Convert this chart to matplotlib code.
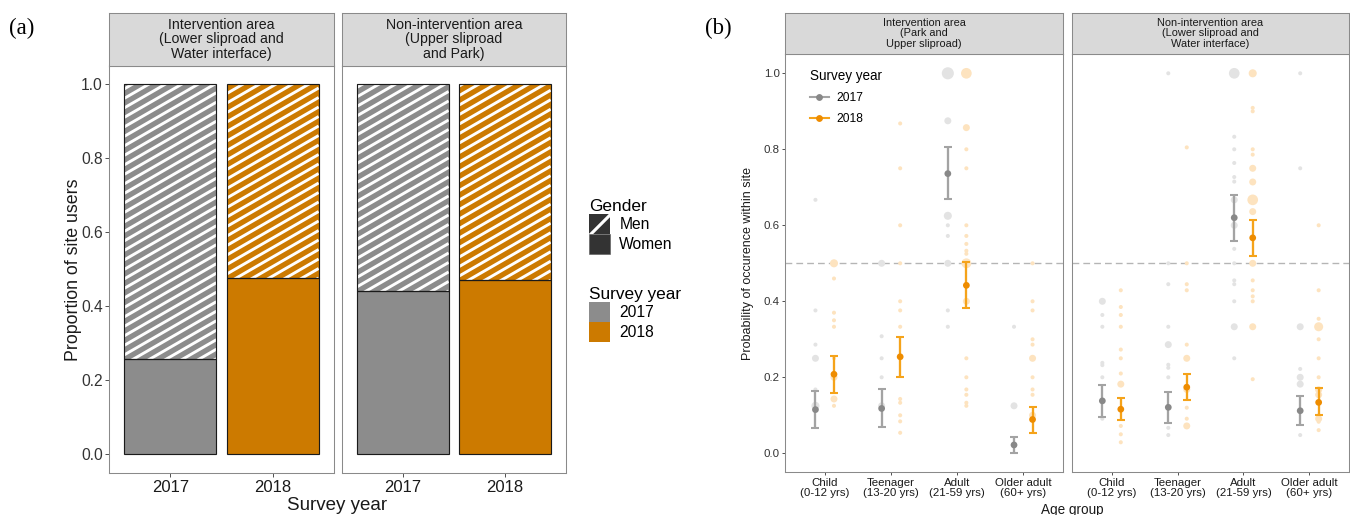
import numpy as np
import matplotlib
matplotlib.use("Agg")
import matplotlib.pyplot as plt
from matplotlib.patches import Patch
from matplotlib.lines import Line2D

W, H = 1350, 515
DPI = 75

plt.rcParams["font.family"] = ["Liberation Sans Narrow", "Liberation Sans", "DejaVu Sans"]
plt.rcParams["hatch.linewidth"] = 3.0

# ---------------- panel (a) data ----------------
YEARS = ["2017", "2018"]
STRIPS_A = ["Intervention area\n(Lower sliproad and\nWater interface)",
            "Non-intervention area\n(Upper sliproad\nand Park)"]
WOMEN_INT = [0.258, 0.476]
WOMEN_NONINT = [0.441, 0.470]

# ---------------- panel (b) data ----------------
AGE_LABELS = ["Child\n(0-12 yrs)", "Teenager\n(13-20 yrs)", "Adult\n(21-59 yrs)", "Older adult\n(60+ yrs)"]
STRIPS_B = ["Intervention area\n(Park and\nUpper sliproad)",
            "Non-intervention area\n(Lower sliproad and\nWater interface)"]

MEAN_INT_2017 = [0.115, 0.118, 0.736, 0.022]
LO_INT_2017 = [0.066, 0.069, 0.669, 0.001]
HI_INT_2017 = [0.165, 0.170, 0.806, 0.043]
MEAN_INT_2018 = [0.208, 0.254, 0.442, 0.089]
LO_INT_2018 = [0.159, 0.200, 0.382, 0.054]
HI_INT_2018 = [0.257, 0.307, 0.503, 0.123]

MEAN_NON_2017 = [0.138, 0.121, 0.620, 0.112]
LO_NON_2017 = [0.096, 0.081, 0.560, 0.074]
HI_NON_2017 = [0.181, 0.161, 0.681, 0.151]
MEAN_NON_2018 = [0.116, 0.174, 0.567, 0.134]
LO_NON_2018 = [0.087, 0.140, 0.520, 0.102]
HI_NON_2018 = [0.146, 0.209, 0.613, 0.172]

# site-level observations (value, count) per age group
OBS_INT_2017 = [[0.667, 0.376, 0.286, 0.25, 0.168, 0.125],
                [0.5, 0.308, 0.25, 0.2, 0.125],
                [1.0, 0.875, 0.625, 0.6, 0.572, 0.5, 0.376, 0.333],
                [0.333, 0.125]]
N_INT_2017 = [[1, 1, 1, 3, 1, 4],
              [3, 1, 1, 1, 3],
              [9, 3, 4, 1, 1, 3, 1, 1],
              [1, 3]]
OBS_INT_2018 = [[0.5, 0.46, 0.37, 0.35, 0.333, 0.25, 0.2, 0.143, 0.125],
                [0.868, 0.75, 0.6, 0.5, 0.4, 0.376, 0.333, 0.143, 0.133, 0.1, 0.084, 0.054],
                [1.0, 0.857, 0.8, 0.75, 0.6, 0.572, 0.551, 0.533, 0.525, 0.5, 0.4, 0.25, 0.2,
                 0.168, 0.154, 0.133, 0.125],
                [0.5, 0.4, 0.376, 0.3, 0.286, 0.25, 0.2, 0.168, 0.154, 0.1]]
N_INT_2018 = [[4, 1, 1, 1, 1, 1, 3, 3, 1],
              [1, 1, 1, 1, 1, 1, 1, 1, 1, 1, 1, 1],
              [7, 3, 1, 1, 1, 1, 1, 1, 1, 6, 3, 1, 1, 1, 1, 1, 1],
              [1, 1, 1, 1, 1, 3, 1, 1, 1, 3]]
OBS_NON_2017 = [[0.4, 0.364, 0.333, 0.238, 0.232, 0.2, 0.091],
                [1.0, 0.5, 0.445, 0.333, 0.286, 0.233, 0.225, 0.2, 0.067, 0.048],
                [1.0, 0.833, 0.8, 0.764, 0.727, 0.715, 0.667, 0.6, 0.538, 0.5, 0.455, 0.445,
                 0.4, 0.333, 0.25],
                [1.0, 0.75, 0.333, 0.222, 0.2, 0.182, 0.048]]
N_NON_2017 = [[3, 1, 1, 1, 1, 1, 1],
              [1, 1, 1, 1, 3, 1, 1, 1, 1, 1],
              [7, 1, 1, 1, 1, 1, 3, 3, 1, 1, 1, 1, 1, 3, 1],
              [1, 1, 3, 1, 3, 3, 1]]
OBS_NON_2018 = [[0.429, 0.385, 0.364, 0.333, 0.273, 0.25, 0.21, 0.182, 0.072, 0.05, 0.029],
                [0.805, 0.5, 0.445, 0.429, 0.286, 0.25, 0.168, 0.12, 0.091, 0.072],
                [1.0, 0.909, 0.9, 0.8, 0.786, 0.75, 0.714, 0.667, 0.636, 0.5, 0.455, 0.429,
                 0.413, 0.4, 0.333, 0.195],
                [0.6, 0.429, 0.354, 0.333, 0.3, 0.25, 0.2, 0.167, 0.154, 0.1, 0.091, 0.083, 0.061]]
N_NON_2018 = [[1, 1, 1, 1, 1, 1, 1, 3, 1, 1, 1],
              [1, 1, 1, 1, 1, 3, 3, 1, 1, 3],
              [4, 1, 1, 1, 1, 3, 3, 7, 3, 3, 1, 1, 1, 1, 3, 1],
              [1, 1, 1, 5, 1, 1, 1, 3, 3, 1, 3, 1, 1]]

GRAY_A = "#8C8C8C"
ORANGE_A = "#CC7A00"
GRAY_PT = "#888888"
GRAY_EB = "#A3A3A3"
ORANGE_PT = "#EE8C00"
ORANGE_EB = "#F5A31A"
GRAY_FAINT = "#E3E3E3"
ORANGE_FAINT = "#FDE3BF"
STRIP_FILL = "#D9D9D9"
BORDER = "#8A8A8A"


def px_rect(x0, y0, x1, y1):
    return [x0 / W, 1 - y1 / H, (x1 - x0) / W, (y1 - y0) / H]


def fx(x):
    return x / W


def fy(y):
    return 1 - y / H


def style_box(ax):
    for sp in ax.spines.values():
        sp.set_edgecolor(BORDER)
        sp.set_linewidth(1.0)


def add_strip(fig, rect, label, size):
    s = fig.add_axes(rect)
    s.set_facecolor(STRIP_FILL)
    s.set_xticks([])
    s.set_yticks([])
    style_box(s)
    s.text(0.5, 0.5, label, ha="center", va="center", fontsize=size,
           color="#1a1a1a", linespacing=1.05, transform=s.transAxes)
    return s


def stripes(ax, rect_patch, x0, x1, y0, y1, angle=30, gap=9.5):
    # white diagonal stripes inside a bar segment, drawn in pixel space
    (px0, py0) = ax.transData.transform((x0, y0))
    (px1, py1) = ax.transData.transform((x1, y1))
    t = np.tan(np.radians(angle))
    inv = ax.transData.inverted()
    start = py0 - t * (px1 - px0)
    for off in np.arange(start, py1 + gap, gap):
        pts = inv.transform([(px0, off), (px1, off + t * (px1 - px0))])
        ln, = ax.plot(pts[:, 0], pts[:, 1], color="white", lw=2.8, zorder=3,
                      solid_capstyle="butt")
        ln.set_clip_path(rect_patch)


fig = plt.figure(figsize=(W / DPI, H / DPI), dpi=DPI)

# ================= panel (a) =================
facets_a = [(109, 334), (341.5, 566)]
women_sets = [WOMEN_INT, WOMEN_NONINT]
colors_a = [GRAY_A, ORANGE_A]
xpos = np.arange(1, len(YEARS) + 1)
for k in range(2):
    x0, x1 = facets_a[k]
    ax = fig.add_axes(px_rect(x0, 65.5, x1, 472.7))
    ax.set_xlim(0.4, 2.6)
    ax.set_ylim(-0.05, 1.05)
    style_box(ax)
    for i, w in enumerate(women_sets[k]):
        ax.bar(xpos[i], w, width=0.9, color=colors_a[i], edgecolor="none", zorder=2)
        men = ax.bar(xpos[i], 1 - w, bottom=w, width=0.9, color=colors_a[i],
                     edgecolor="none", zorder=2)
        stripes(ax, men.patches[0], xpos[i] - 0.45, xpos[i] + 0.45, w, 1.0)
        ax.bar(xpos[i], w, width=0.9, fill=False, edgecolor="#1a1a1a", lw=1.1, zorder=4)
        ax.bar(xpos[i], 1 - w, bottom=w, width=0.9, fill=False, edgecolor="#1a1a1a",
               lw=1.1, zorder=4)
    ax.set_xticks(xpos)
    ax.set_xticklabels(YEARS, fontsize=16, color="#1a1a1a")
    ax.set_yticks(np.arange(0, 1.01, 0.2))
    if k == 0:
        ax.set_yticklabels([f"{v:.1f}" for v in np.arange(0, 1.01, 0.2)], fontsize=15,
                           color="#333333")
        ax.tick_params(axis="y", length=4, color="#333333", pad=2)
    else:
        ax.tick_params(axis="y", left=False, labelleft=False)
    ax.tick_params(axis="x", length=4, color="#333333", pad=3)
    add_strip(fig, px_rect(x0, 12.7, x1, 65.5), STRIPS_A[k], 13.5)

fig.text(fx(73), fy(270), "Proportion of site users", rotation=90, ha="center",
         va="center", fontsize=17, color="#1a1a1a")
fig.text(fx(337), fy(505), "Survey year", ha="center", va="center", fontsize=18,
         color="#1a1a1a")
fig.text(fx(22), fy(28), "(a)", ha="center", va="center", fontsize=22,
         family=["Liberation Serif", "DejaVu Serif"])

gender_handles = [Patch(facecolor="#333333", edgecolor="white", hatch="/", lw=0),
                  Patch(facecolor="#333333", edgecolor="#555555", lw=0.5)]
fig.legend(gender_handles, ["Men", "Women"], title="Gender",
           loc="upper left", bbox_to_anchor=(fx(578), fy(188)), frameon=False,
           fontsize=15, title_fontsize=16.5, handlelength=1.35, handleheight=1.6,
           labelspacing=0.0, handletextpad=0.6, alignment="left", borderpad=0.2)
year_handles = [Patch(facecolor=GRAY_A, edgecolor="none"),
                Patch(facecolor=ORANGE_A, edgecolor="none")]
fig.legend(year_handles, YEARS, title="Survey year",
           loc="upper left", bbox_to_anchor=(fx(578), fy(276)), frameon=False,
           fontsize=15, title_fontsize=16.5, handlelength=1.35, handleheight=1.6,
           labelspacing=0.0, handletextpad=0.6, alignment="left", borderpad=0.2)

# ================= panel (b) =================
facets_b = [(785, 1063), (1072, 1349)]
mean_sets = [(MEAN_INT_2017, LO_INT_2017, HI_INT_2017, MEAN_INT_2018, LO_INT_2018, HI_INT_2018),
             (MEAN_NON_2017, LO_NON_2017, HI_NON_2017, MEAN_NON_2018, LO_NON_2018, HI_NON_2018)]
obs_sets = [(OBS_INT_2017, N_INT_2017, OBS_INT_2018, N_INT_2018),
            (OBS_NON_2017, N_NON_2017, OBS_NON_2018, N_NON_2018)]
cats = np.arange(1, len(AGE_LABELS) + 1)
dodge = 0.14
for k in range(2):
    x0, x1 = facets_b[k]
    ax = fig.add_axes(px_rect(x0, 54.3, x1, 472.3))
    ax.set_xlim(0.4, 4.6)
    ax.set_ylim(-0.05, 1.05)
    style_box(ax)
    ax.axhline(0.5, color="#B5B5B5", lw=1.3, ls=(0, (5, 3)), zorder=1)

    o17, n17, o18, n18 = obs_sets[k]
    for i in range(len(cats)):
        ax.scatter(np.full(len(o17[i]), cats[i] - dodge), o17[i],
                   s=np.array(n17[i]) * 15, color=GRAY_FAINT, edgecolors="none", zorder=2)
        ax.scatter(np.full(len(o18[i]), cats[i] + dodge), o18[i],
                   s=np.array(n18[i]) * 15, color=ORANGE_FAINT, edgecolors="none", zorder=2)

    m17, l17, h17, m18, l18, h18 = mean_sets[k]
    for m, lo, hi, off, ce, cp in [(m17, l17, h17, -dodge, GRAY_EB, GRAY_PT),
                                   (m18, l18, h18, dodge, ORANGE_EB, ORANGE_PT)]:
        m = np.array(m)
        ax.errorbar(cats + off, m, yerr=[m - np.array(lo), np.array(hi) - m],
                    fmt="none", ecolor=ce, elinewidth=2.2, capsize=3.8, capthick=2.0,
                    zorder=3)
        ax.scatter(cats + off, m, s=42, color=cp, edgecolors="none", zorder=4)

    ax.set_xticks(cats)
    ax.set_xticklabels(AGE_LABELS, fontsize=11, color="#1a1a1a", linespacing=1.05)
    ax.tick_params(axis="x", length=3, color="#333333", pad=2)
    ax.set_yticks(np.arange(0, 1.01, 0.2))
    if k == 0:
        ax.set_yticklabels([f"{v:.1f}" for v in np.arange(0, 1.01, 0.2)], fontsize=11,
                           color="#333333")
        ax.tick_params(axis="y", length=3, color="#333333", pad=2)
        hb = [Line2D([0], [0], color=GRAY_EB, lw=2, marker="o", markersize=5.5,
                     markerfacecolor=GRAY_PT, markeredgecolor=GRAY_PT),
              Line2D([0], [0], color=ORANGE_EB, lw=2, marker="o", markersize=5.5,
                     markerfacecolor=ORANGE_PT, markeredgecolor=ORANGE_PT)]
        ax.legend(hb, YEARS, title="Survey year", loc="upper left",
                  bbox_to_anchor=(0.05, 0.99), frameon=False, fontsize=11.5,
                  title_fontsize=13, handlelength=1.6, labelspacing=0.75,
                  alignment="left", handletextpad=0.6)
    else:
        ax.tick_params(axis="y", left=False, labelleft=False)
    add_strip(fig, px_rect(x0, 12.7, x1, 54.3), STRIPS_B[k], 10.5)

fig.text(fx(748), fy(263), "Probability of occurence within site", rotation=90,
         ha="center", va="center", fontsize=12, color="#1a1a1a")
fig.text(fx(1072), fy(510), "Age group", ha="center", va="center", fontsize=13,
         color="#1a1a1a")
fig.text(fx(718), fy(28), "(b)", ha="center", va="center", fontsize=22,
         family=["Liberation Serif", "DejaVu Serif"])

fig.savefig("out.png", dpi=DPI, facecolor="white")
